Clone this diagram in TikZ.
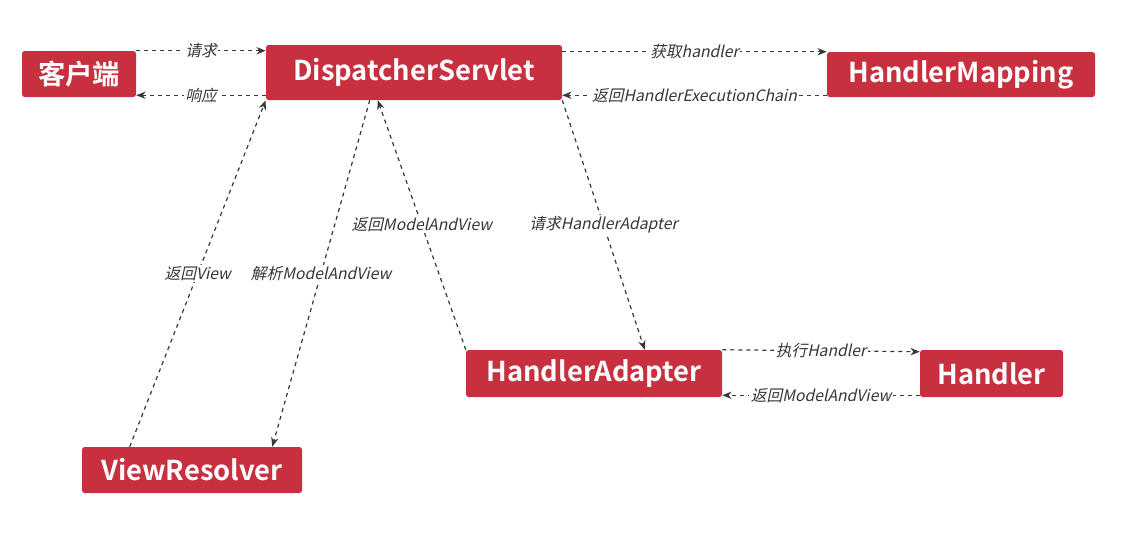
\documentclass[tikz,border=0pt]{standalone}
\usepackage{fontspec}
\usepackage{tikz}
\usetikzlibrary{arrows.meta,calc}
\newfontfamily\cjk{Noto Sans CJK SC}[BoldFont={Noto Sans CJK SC Bold}]
\newfontfamily\cjkit{Noto Sans CJK SC}[FakeSlant=0.22]
\definecolor{boxred}{RGB}{200,48,64}
\definecolor{linegray}{RGB}{55,55,55}
\tikzset{
  comp/.style={fill=boxred, rounded corners=2pt, text=white, inner sep=0pt,
    font=\cjk\bfseries\fontsize{20.5}{22}\selectfont},
  flow/.style={draw=linegray, dashed, line width=0.9pt, -{Stealth[length=7pt,width=5.5pt]}},
  lbl/.style={fill=white, inner sep=1pt, text=linegray, font=\cjkit\fontsize{11.8}{13}\selectfont}
}
\begin{document}
\begin{tikzpicture}[x=0.75pt,y=0.75pt,yscale=-1,xscale=1]
\useasboundingbox (0,0) rectangle (1126,537);

% Components
\node [comp, minimum width=114*0.75pt, minimum height=46*0.75pt] (client) at (79,74) {客户端};
\node [comp, minimum width=296*0.75pt, minimum height=55*0.75pt] (ds) at (414,72.5) {DispatcherServlet};
\node [comp, minimum width=268*0.75pt, minimum height=45*0.75pt] (hm) at (961,74.5) {HandlerMapping};
\node [comp, minimum width=256*0.75pt, minimum height=47*0.75pt] (ha) at (594,373.5) {HandlerAdapter};
\node [comp, minimum width=143*0.75pt, minimum height=47*0.75pt] (h) at (991.5,373.5) {Handler};
\node [comp, minimum width=220*0.75pt, minimum height=46*0.75pt] (vr) at (192,470) {ViewResolver};

% Client <-> DispatcherServlet
\draw [flow] (client.north east) -- (ds.west |- client.north east) node [lbl, midway] {请求};
\draw [flow] ($(ds.south west)+(0,-5)$) -- (client.east |- {$(ds.south west)+(0,-5)$}) node [lbl, midway] {响应};

% DispatcherServlet <-> HandlerMapping
\draw [flow] ($(ds.north east)+(0,7)$) -- (hm.west |- {$(ds.north east)+(0,7)$}) node [lbl, midway] {获取handler};
\draw [flow] ($(hm.south west)+(0,-2)$) -- (ds.east |- {$(hm.south west)+(0,-2)$}) node [lbl, midway] {返回HandlerExecutionChain};

% DispatcherServlet <-> ViewResolver
\draw [flow] ($(vr.north west)+(48,0)$) -- (ds.south west) node [lbl, midway] {返回View};
\draw [flow] ($(ds.south west)+(104,0)$) -- ($(vr.north east)+(-30,0)$) node [lbl, midway] {解析ModelAndView};

% DispatcherServlet <-> HandlerAdapter
\draw [flow] (ha.north west) -- ($(ds.south west)+(112,0)$) node [lbl, midway] {返回ModelAndView};
\draw [flow] (ds.south east) -- ($(ha.north west)+(179,0)$) node [lbl, midway] {请求HandlerAdapter};

% HandlerAdapter <-> Handler
\draw [flow] (ha.north east) -- ($(h.north west)+(0,2)$) node [lbl, midway] {执行Handler};
\draw [flow] ($(h.south west)+(0,-2)$) -- (ha.east |- {$(h.south west)+(0,-2)$}) node [lbl, midway] {返回ModelAndView};

\end{tikzpicture}
\end{document}
